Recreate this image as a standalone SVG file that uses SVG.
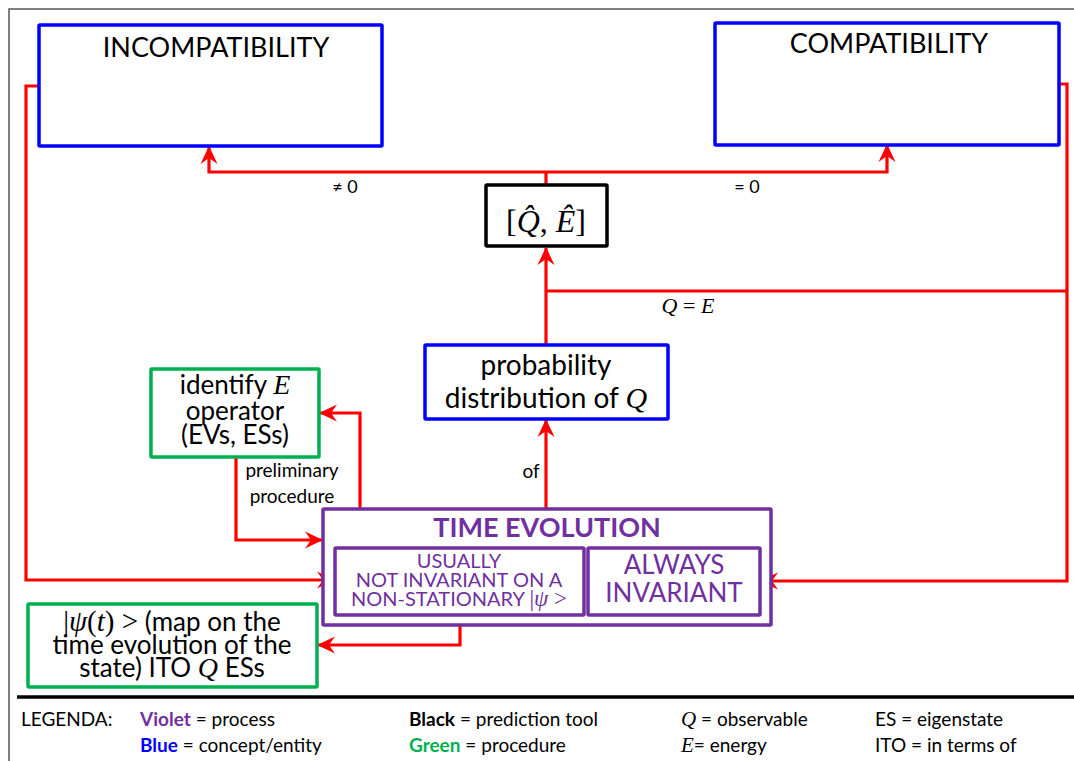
<svg xmlns="http://www.w3.org/2000/svg" width="1074" height="761" viewBox="0 0 1074 761">
<style>
text{font-family:Lato,"Open Sans",sans-serif;fill:#000}
.m{font-family:"Liberation Serif","DejaVu Serif",serif;font-style:italic}
.mu{font-family:"Liberation Serif","DejaVu Serif",serif;font-style:normal}
.box{fill:#fff;stroke-width:3.5}
.blue{stroke:#0000FF}
.green{stroke:#00B050}
.violet{stroke:#7030A0}
.black{stroke:#000}
.vt{fill:#7030A0}
.c{fill:none;stroke:#FF0000;stroke-width:3.2;stroke-linejoin:miter}
.ca{marker-end:url(#ah)}
</style>
<defs>
<marker id="ah" markerUnits="userSpaceOnUse" viewBox="-18 -9 19 18" refX="0" refY="0" markerWidth="19" markerHeight="18" orient="auto">
<path d="M1,0 L-17,-8.5 L-11,0 L-17,8.5 z" fill="#FF0000"/>
</marker>
</defs>
<rect width="1074" height="761" fill="#fff"/>
<g id="frame">
<path d="M9,761 V9 H1074" fill="none" stroke="#555" stroke-width="1.5"/>
<path d="M17,697 H1074" stroke="#000" stroke-width="3.5"/>
</g>
<g id="connectors">
<path class="c" d="M546,185 V172"/>
<path class="c ca" d="M546,172 H209 V147"/>
<path class="c ca" d="M546,172 H887 V145"/>
<path class="c ca" d="M546,345 V248"/>
<path class="c" d="M546,291 H1067"/>
<path class="c ca" d="M1059,84 H1067 V581 H761"/>
<path class="c ca" d="M39,86 H26 V580 H334"/>
<path class="c ca" d="M360,508 V413 H320"/>
<path class="c ca" d="M236,458 V540 H322"/>
<path class="c ca" d="M546,508 V420"/>
<path class="c ca" d="M460,616 V645 H318"/>
<text x="345" y="193" font-size="18" text-anchor="middle">≠ 0</text>
<text x="747" y="193" font-size="18" text-anchor="middle">= 0</text>
<text x="688" y="313" font-size="22" text-anchor="middle" class="m">Q <tspan class="mu">=</tspan> E</text>
<text x="292" y="477" font-size="19" text-anchor="middle">preliminary</text>
<text x="292" y="503" font-size="19" text-anchor="middle">procedure</text>
<text x="531" y="478" font-size="19" text-anchor="middle">of</text>
</g>
<g id="incompatibility">
<rect class="box blue" x="39" y="25" width="343" height="121" rx="1"/>
<text x="216" y="57" font-size="27" text-anchor="middle">INCOMPATIBILITY</text>
</g>
<g id="compatibility">
<rect class="box blue" x="715" y="23" width="344" height="122" rx="1"/>
<text x="889" y="53" font-size="27" text-anchor="middle">COMPATIBILITY</text>
</g>
<g id="commutator">
<rect class="box black" x="486" y="185" width="121" height="61" rx="1"/>
<text x="546" y="232" font-size="32" text-anchor="middle" class="mu">[<tspan class="m">Q̂</tspan>, <tspan class="m">Ê</tspan>]</text>
</g>
<g id="probability">
<rect class="box blue" x="425" y="345" width="243" height="74" rx="1"/>
<text x="546" y="375" font-size="28" text-anchor="middle">probability</text>
<text x="546" y="408" font-size="28" text-anchor="middle">distribution of <tspan class="m" font-size="30">Q</tspan></text>
</g>
<g id="identify">
<rect class="box green" x="151" y="369" width="168" height="88" rx="1"/>
<text x="235" y="394" font-size="26" text-anchor="middle">identify <tspan class="m" font-size="28">E</tspan></text>
<text x="235" y="420" font-size="26" text-anchor="middle">operator</text>
<text x="235" y="444" font-size="26" text-anchor="middle">(EVs, ESs)</text>
</g>
<g id="time-evolution">
<rect class="box violet" x="323" y="509" width="448" height="116" rx="1"/>
<text x="547" y="537" font-size="27" font-weight="bold" text-anchor="middle" class="vt">TIME EVOLUTION</text>
</g>
<g id="not-invariant">
<rect class="box violet" x="335" y="548" width="249" height="67" rx="1"/>
<text x="459" y="568" font-size="20" text-anchor="middle" class="vt">USUALLY</text>
<text x="459" y="587" font-size="20" text-anchor="middle" class="vt">NOT INVARIANT ON A</text>
<text x="459" y="606" font-size="20" text-anchor="middle" class="vt">NON-STATIONARY <tspan class="mu" font-size="23">|<tspan class="m">ψ</tspan> &gt;</tspan></text>
</g>
<g id="always-invariant">
<rect class="box violet" x="588" y="548" width="172" height="67" rx="1"/>
<text x="674" y="574" font-size="26" text-anchor="middle" class="vt">ALWAYS</text>
<text x="674" y="602" font-size="26" text-anchor="middle" class="vt">INVARIANT</text>
</g>
<g id="psi-map">
<rect class="box green" x="28" y="604" width="289" height="83" rx="1"/>
<text x="172" y="631" font-size="26" text-anchor="middle"><tspan class="mu" font-size="29">|<tspan class="m">ψ</tspan>(<tspan class="m">t</tspan>) &gt;</tspan> (map on the</text>
<text x="172" y="654" font-size="26" text-anchor="middle">time evolution of the</text>
<text x="172" y="677" font-size="26" text-anchor="middle">state) ITO <tspan class="m" font-size="28">Q</tspan> ESs</text>
</g>
<g id="legend" font-size="19">
<text x="21" y="726" font-size="19">LEGENDA:</text>
<text x="140" y="726" font-size="19"><tspan font-weight="bold" fill="#7030A0">Violet</tspan> = process</text>
<text x="140" y="752" font-size="19"><tspan font-weight="bold" fill="#0000FF">Blue</tspan> = concept/entity</text>
<text x="409" y="726" font-size="19"><tspan font-weight="bold">Black</tspan> = prediction tool</text>
<text x="409" y="752" font-size="19"><tspan font-weight="bold" fill="#00B050">Green</tspan> = procedure</text>
<text x="681" y="726" font-size="19"><tspan class="m" font-size="21">Q</tspan> = observable</text>
<text x="681" y="752" font-size="19"><tspan class="m" font-size="21">E</tspan>= energy</text>
<text x="875" y="726" font-size="19">ES = eigenstate</text>
<text x="875" y="752" font-size="19">ITO = in terms of</text>
</g>
</svg>
